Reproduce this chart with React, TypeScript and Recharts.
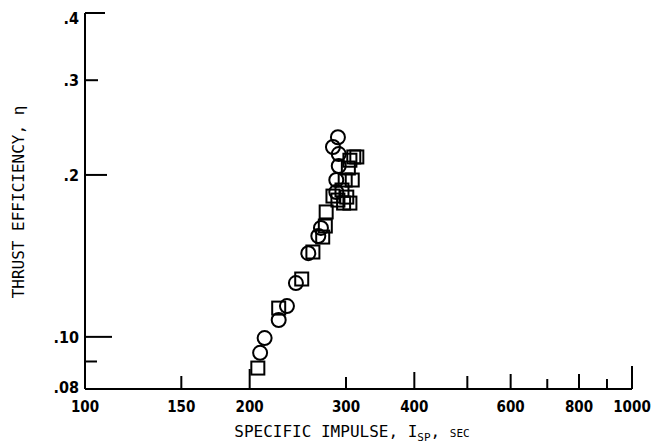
import { ScatterChart, Scatter, XAxis, YAxis, Label } from "recharts";

// specific impulse (sec) and thrust efficiency for the circle series
const circleIsp = [290, 284, 291, 291, 288, 288, 270, 267, 256, 243, 234, 226, 213, 209];
const circleEta = [0.235, 0.2254, 0.2187, 0.2078, 0.1957, 0.1859, 0.1594, 0.154, 0.1431, 0.1259, 0.1141, 0.1075, 0.0995, 0.0934];

// square series
const squareIsp = [207, 226, 249, 261, 272, 275, 276, 284, 290, 295, 301, 305, 299, 308, 303, 305, 310, 314, 297];
const squareEta = [0.0875, 0.1131, 0.1281, 0.1438, 0.1533, 0.1607, 0.1707, 0.1827, 0.1796, 0.1875, 0.1819, 0.1773, 0.1957, 0.1957, 0.206, 0.213, 0.216, 0.216, 0.1773];

const xTicks = [100, 150, 200, 300, 400, 500, 600, 700, 800, 900, 1000];
const xTickLabels = ["100", "150", "200", "300", "400", "", "600", "", "800", "", "1000"];
const yTicks = [0.08, 0.09, 0.1, 0.2, 0.3, 0.4];
const yTickLabels = [".08", "", ".10", ".2", ".3", ".4"];

const circles = circleIsp.map((x, i) => ({ x, y: circleEta[i] }));
const squares = squareIsp.map((x, i) => ({ x, y: squareEta[i] }));

const FONT = "'DejaVu Sans Condensed', 'Liberation Sans Narrow', 'DejaVu Sans', sans-serif";
const TITLE_FONT = "'DejaVu Sans Mono', 'Liberation Mono', monospace";

// inward tick mark lengths
const xTickLen: Record<number, number> = { 100: 0, 150: 13, 200: 20, 300: 12, 400: 17, 500: 13, 600: 15, 700: 10, 800: 15, 900: 10, 1000: 23 };
const yTickLen: Record<number, number> = { 0.08: 0, 0.09: 12, 0.1: 27, 0.2: 22, 0.3: 13, 0.4: 20 };

const XTick = (props: any) => {
  const { x, y, payload } = props;
  const i = xTicks.indexOf(payload.value);
  const len = xTickLen[payload.value] ?? 10;
  return (
    <g>
      {len > 0 && <line x1={x} x2={x} y1={y} y2={y - len} stroke="#000" strokeWidth={2} />}
      <text x={x} y={y + 23} textAnchor="middle" fontFamily={FONT} fontWeight="bold" fontSize={15} fill="#000">
        {xTickLabels[i]}
      </text>
    </g>
  );
};

const YTick = (props: any) => {
  const { x, y, payload } = props;
  const i = yTicks.indexOf(payload.value);
  const len = yTickLen[payload.value] ?? 10;
  const dy = payload.value === 0.4 ? 5 : payload.value === 0.08 ? -2 : 0;
  return (
    <g>
      {len > 0 && <line x1={x} x2={x + len} y1={y} y2={y} stroke="#000" strokeWidth={2} />}
      <text x={x - 6} y={y + dy + 6} textAnchor="end" fontFamily={FONT} fontWeight="bold" fontSize={16} fill="#000">
        {yTickLabels[i]}
      </text>
    </g>
  );
};

const CircleMark = (props: any) => (
  <circle cx={props.cx} cy={props.cy} r={7} fill="none" stroke="#000" strokeWidth={2} />
);

const SquareMark = (props: any) => (
  <rect x={props.cx - 6.5} y={props.cy - 6.5} width={13} height={13} fill="none" stroke="#000" strokeWidth={2} />
);

const XTitle = () => (
  <text x={352} y={437} textAnchor="middle" fontFamily={TITLE_FONT} fontSize={16} fill="#000">
    SPECIFIC IMPULSE, I
    <tspan fontSize={11} dy={4}>SP</tspan>
    <tspan dy={-4}>, </tspan>
    <tspan fontSize={11}>SEC</tspan>
  </text>
);

const YTitle = () => (
  <text x={24} y={202} textAnchor="middle" transform="rotate(-90, 24, 202)" fontFamily={TITLE_FONT} fontSize={16} fill="#000">
    THRUST EFFICIENCY, η
  </text>
);

export default function App() {
  return (
    <div style={{ position: "absolute", left: 0, top: 0, background: "#fff" }}>
      <ScatterChart width={667} height={443} margin={{ top: 13, right: 35, left: 0, bottom: 0 }}>
        <XAxis
          type="number"
          dataKey="x"
          scale="log"
          domain={[100, 1000]}
          ticks={xTicks}
          interval={0}
          height={54}
          tickSize={0}
          tickMargin={0}
          tick={<XTick />}
          axisLine={{ stroke: "#000", strokeWidth: 2 }}
          allowDataOverflow
        >
          <Label content={<XTitle />} />
        </XAxis>
        <YAxis
          type="number"
          dataKey="y"
          scale="log"
          domain={[0.08, 0.4]}
          ticks={yTicks}
          interval={0}
          width={85}
          tickSize={0}
          tickMargin={0}
          tick={<YTick />}
          axisLine={{ stroke: "#000", strokeWidth: 2 }}
          allowDataOverflow
        >
          <Label content={<YTitle />} />
        </YAxis>
        <Scatter data={circles} shape={<CircleMark />} isAnimationActive={false} />
        <Scatter data={squares} shape={<SquareMark />} isAnimationActive={false} />
      </ScatterChart>
    </div>
  );
}
